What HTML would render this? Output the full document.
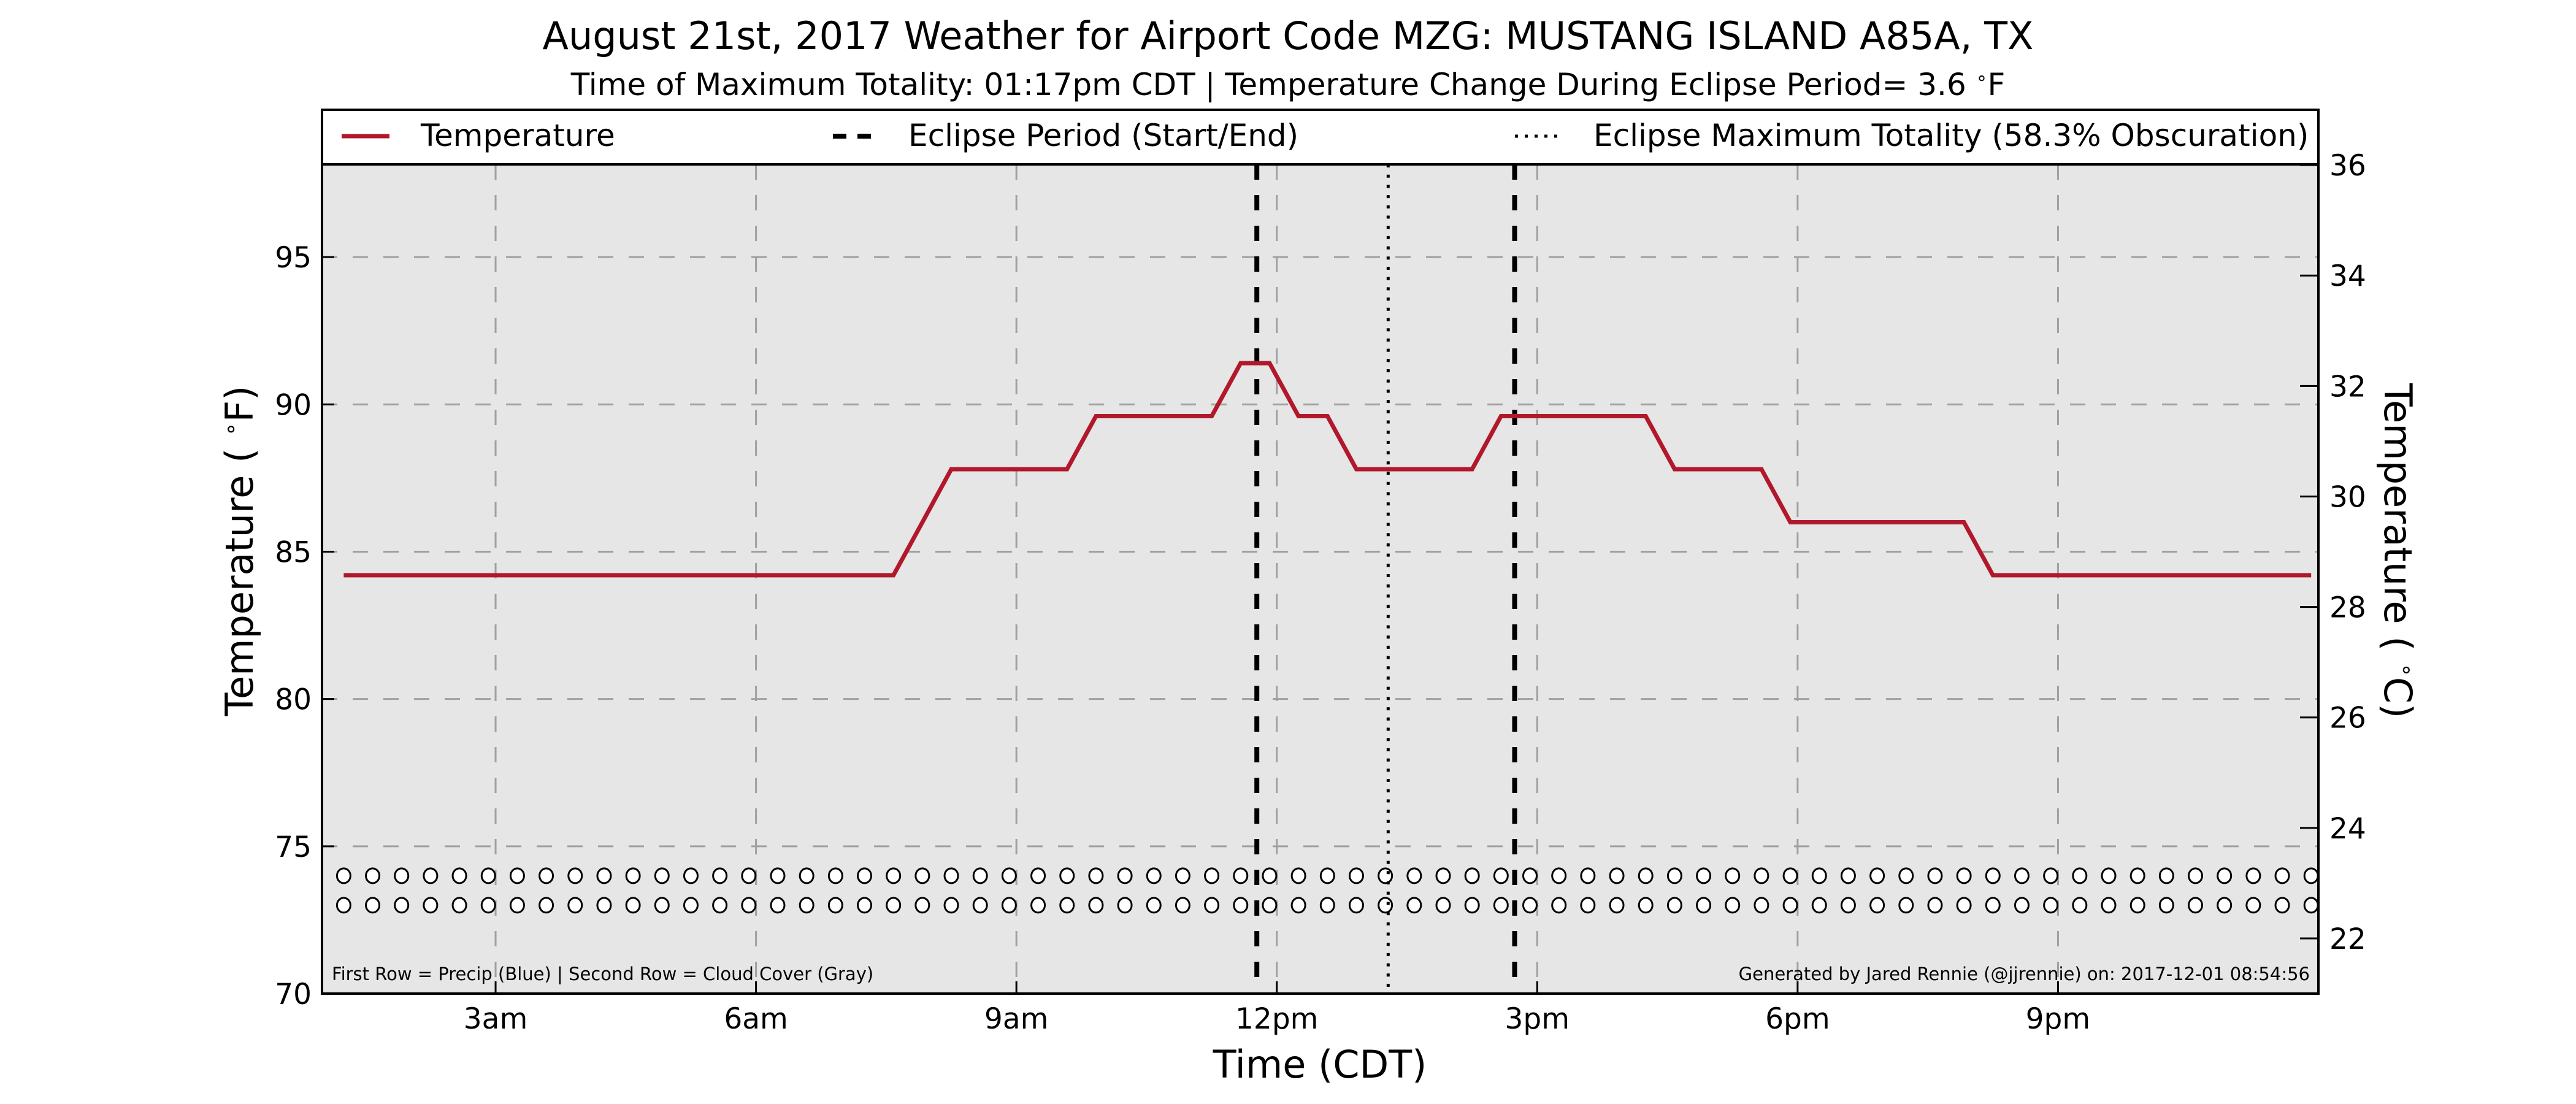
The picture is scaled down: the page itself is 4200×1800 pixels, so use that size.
<!DOCTYPE html>
<html><head><meta charset="utf-8"><style>
html,body{margin:0;padding:0;background:#fff;}
svg{display:block;font-family:"DejaVu Sans","Liberation Sans",sans-serif;}
</style></head><body>
<svg id="chart" width="4200" height="1800" viewBox="0 0 4200 1800" xmlns="http://www.w3.org/2000/svg">
<text x="2100" y="80" font-size="62" text-anchor="middle">August 21st, 2017 Weather for Airport Code MZG: MUSTANG ISLAND A85A, TX</text>
<text x="2100" y="155" font-size="50" text-anchor="middle">Time of Maximum Totality: 01:17pm CDT | Temperature Change During Eclipse Period= 3.6 <tspan font-size="30" dy="-18">∘</tspan><tspan dy="18">F</tspan></text>
<rect x="525" y="179" width="3255" height="1441" fill="#e6e6e6"/>
<g id="grid"></g>
<g id="circles"></g>
<g id="eclipse"></g>
<path id="templine" fill="none" stroke="#b2182b" stroke-width="7" stroke-linejoin="miter"/>
<g id="axes"></g>
<rect x="525" y="179" width="3255" height="1441" fill="none" stroke="#000" stroke-width="4"/>
<g>
<rect x="525" y="179" width="3255" height="89" fill="#fff" stroke="#000" stroke-width="4"/>
<line x1="557" y1="222" x2="635" y2="222" stroke="#b2182b" stroke-width="7"/>
<text x="686" y="238" font-size="50">Temperature</text>
<line x1="1358" y1="222" x2="1428" y2="222" stroke="#000" stroke-width="8" stroke-dasharray="22,18"/>
<text x="1481" y="238" font-size="50">Eclipse Period (Start/End)</text>
<line x1="2470" y1="222" x2="2545" y2="222" stroke="#000" stroke-width="5" stroke-dasharray="5,11"/>
<text x="2598" y="238" font-size="50">Eclipse Maximum Totality (58.3% Obscuration)</text>
</g>
<text x="541" y="1598" font-size="29">First Row = Precip (Blue) | Second Row = Cloud Cover (Gray)</text>
<text x="3766" y="1598" font-size="29" text-anchor="end">Generated by Jared Rennie (@jjrennie) on: 2017-12-01 08:54:56</text>
<text transform="translate(412,898) rotate(-90)" font-size="62" text-anchor="middle">Temperature ( <tspan font-size="36" dy="-24">∘</tspan><tspan dy="24">F)</tspan></text>
<text transform="translate(3888,898) rotate(90)" font-size="62" text-anchor="middle">Temperature ( <tspan font-size="36" dy="-24">∘</tspan><tspan dy="24">C)</tspan></text>
<text x="2152" y="1757" font-size="62" text-anchor="middle">Time (CDT)</text>
</svg>
<script>
const times = [];
for (let i = 0; i < 69; i++) times.push(1.25 + i / 3);
const tempF = [
84.2,84.2,84.2,84.2,84.2,84.2,84.2,84.2,84.2,84.2,84.2,84.2,84.2,84.2,84.2,84.2,84.2,84.2,84.2,84.2,
86.0,87.8,87.8,87.8,87.8,87.8,89.6,89.6,89.6,89.6,89.6,91.4,91.4,89.6,89.6,87.8,87.8,87.8,87.8,87.8,
89.6,89.6,89.6,89.6,89.6,89.6,87.8,87.8,87.8,87.8,86.0,86.0,86.0,86.0,86.0,86.0,86.0,84.2,84.2,84.2,
84.2,84.2,84.2,84.2,84.2,84.2,84.2,84.2,84.2];
const precipRow = 74.0;
const cloudRow = 73.0;
const eclipseStart = 11.77;
const eclipseMax = 13.283;
const eclipseEnd = 14.74;
const xTickHours = [3, 6, 9, 12, 15, 18, 21];
const xTickLabels = ["3am", "6am", "9am", "12pm", "3pm", "6pm", "9pm"];
const yTicksF = [70, 75, 80, 85, 90, 95];
const yTicksC = [22, 24, 26, 28, 30, 32, 34, 36];

const NS = "http://www.w3.org/2000/svg";
const L = 525, R = 3780, T = 179, B = 1620;
const X = h => L + (h - 1) / 23 * (R - L);
const YF = f => B - (f - 70) / 30 * (B - T);
const YC = c => B - (c - 21) / 16 * (B - T);
function mk(tag, attrs, parent) {
  const e = document.createElementNS(NS, tag);
  for (const k in attrs) e.setAttribute(k, attrs[k]);
  parent.appendChild(e);
  return e;
}
const grid = document.getElementById("grid");
const axes = document.getElementById("axes");
xTickHours.forEach((h, i) => {
  const g = mk("line", {x1: X(h), x2: X(h), y1: 268, y2: B, stroke: "#a0a0a0", "stroke-width": 3, "stroke-dasharray": "25,25"}, grid);
  
  
  const t1 = mk("line", {x1: X(h), x2: X(h), y1: B, y2: B - 20, stroke: "#000", "stroke-width": 3}, axes);
  
  
  const t = mk("text", {x: X(h), y: 1677, "font-size": 47, "text-anchor": "middle"}, axes);
  t.textContent = xTickLabels[i];
  
  
});
yTicksF.forEach(f => {
  if (f > 70) {
    const g = mk("line", {x1: L, x2: R, y1: YF(f), y2: YF(f), stroke: "#a0a0a0", "stroke-width": 3, "stroke-dasharray": "25,25"}, grid);
    
    
  }
  const tk = mk("line", {x1: L, x2: L + 20, y1: YF(f), y2: YF(f), stroke: "#000", "stroke-width": 3}, axes);
  
  
  const t = mk("text", {x: 508, y: YF(f) + 17, "font-size": 47, "text-anchor": "end"}, axes);
  t.textContent = f;
  
  
});
yTicksC.forEach(c => {
  const tk = mk("line", {x1: R - 30, x2: R, y1: YC(c), y2: YC(c), stroke: "#000", "stroke-width": 3}, axes);
  
  
  const t = mk("text", {x: 3798, y: YC(c) + 17, "font-size": 47}, axes);
  t.textContent = c;
  
  
});
const circ = document.getElementById("circles");
times.forEach(h => {
  [precipRow, cloudRow].forEach((r, j) => {
    const c = mk("ellipse", {cx: X(h), cy: YF(r), rx: 11, ry: 12, fill: "#fff", stroke: "#000", "stroke-width": 3}, circ);
    
    
  });
});
const ecl = document.getElementById("eclipse");
[[eclipseStart, "eclipse-start-line"], [eclipseEnd, "eclipse-end-line"]].forEach(([h, n]) => {
  const l = mk("line", {x1: X(h), x2: X(h), y1: 268, y2: B, stroke: "#000", "stroke-width": 8, "stroke-dasharray": "25,25"}, ecl);
  
  
});
const ml = mk("line", {x1: X(eclipseMax), x2: X(eclipseMax), y1: 268, y2: B, stroke: "#000", "stroke-width": 5, "stroke-dasharray": "5,11.7"}, ecl);


document.getElementById("templine").setAttribute("d",
  times.map((h, i) => (i ? "L" : "M") + X(h).toFixed(1) + "," + YF(tempF[i]).toFixed(1)).join(" "));
</script>
</body></html>
